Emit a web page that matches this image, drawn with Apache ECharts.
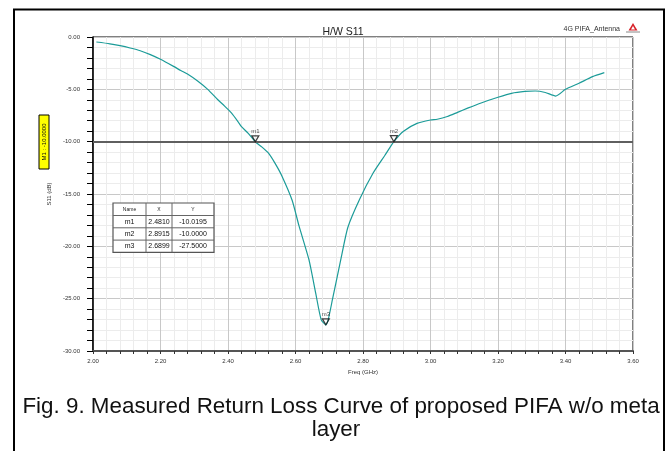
<!DOCTYPE html>
<html>
<head>
<meta charset="utf-8">
<script src="https://cdn.jsdelivr.net/npm/echarts@6/dist/echarts.min.js"></script>
<style>
  html, body { margin: 0; padding: 0; background: #fff; }
  #chart { width: 667px; height: 451px; }
</style>
</head>
<body>
<div id="chart"></div>
<script>
// Measured S11 of the PIFA (frequency in GHz, magnitude in dB)
const freq = [2.01, 2.05, 2.08, 2.11, 2.14, 2.17, 2.20, 2.24, 2.26, 2.28, 2.31, 2.34, 2.37, 2.39, 2.41, 2.43,
  2.44, 2.46, 2.481, 2.50, 2.52, 2.54, 2.56, 2.59, 2.61, 2.64, 2.66, 2.676, 2.6899, 2.697, 2.71, 2.734, 2.755,
  2.79, 2.83, 2.865, 2.8915, 2.92, 2.96, 3.00, 3.02, 3.05, 3.08, 3.11, 3.15, 3.20, 3.24, 3.28, 3.31,
  3.34, 3.371, 3.40, 3.44, 3.48, 3.515];
const s11 = [-0.48, -0.65, -0.83, -1.05, -1.31, -1.68, -2.13, -2.83, -3.2, -3.53, -4.2, -5.0, -6.0, -6.6, -7.25, -8.1,
  -8.57, -9.2, -10.0195, -10.5, -11.1, -12.1, -13.3, -15.6, -18.0, -21.3, -24.5, -27.0, -27.5, -27.0, -25.0, -21.3, -18.2,
  -15.5, -13.0, -11.3, -10.0, -9.0, -8.25, -7.93, -7.86, -7.6, -7.2, -6.8, -6.3, -5.76, -5.38, -5.2, -5.16,
  -5.3, -5.64, -5.0, -4.42, -3.79, -3.41];

// Marker readout
const markerNames = ['m1', 'm2', 'm3'];
const markerX = [2.4810, 2.8915, 2.6899];
const markerY = [-10.0195, -10.0000, -27.5000];

// Reference level line
const refLevel = -10;

// Axis ticks
const xTicks = ['2.00', '2.20', '2.40', '2.60', '2.80', '3.00', '3.20', '3.40', '3.60'];
const yTicks = ['-30.00', '-25.00', '-20.00', '-15.00', '-10.00', '-5.00', '0.00'];

const chart = echarts.init(document.getElementById('chart'), null, { renderer: 'canvas' });

const gridL = 93, gridT = 37, gridW = 540, gridH = 314;
const lineData = freq.map((f, i) => [f, s11[i]]);
const markerData = markerNames.map((n, i) => ({ name: n, value: [markerX[i], markerY[i]] }));
const FONT = 'Arial, "Liberation Sans", sans-serif';

// Marker table drawn as graphic rectangles and texts
const tbl = { x: 113, y: 203, colW: [33, 26, 42], headH: 12.5, rowH: 12.3 };
const tableEls = [];
const totalW = tbl.colW.reduce((a, b) => a + b, 0);
const totalH = tbl.headH + tbl.rowH * markerNames.length;
tableEls.push({ type: 'rect', z: 100, shape: { x: tbl.x, y: tbl.y, width: totalW, height: totalH },
  style: { fill: '#fff', stroke: '#555', lineWidth: 1.2 } });
let cx = tbl.x;
for (let c = 0; c < tbl.colW.length - 1; c++) {
  cx += tbl.colW[c];
  tableEls.push({ type: 'line', z: 101, shape: { x1: cx, y1: tbl.y, x2: cx, y2: tbl.y + totalH }, style: { stroke: '#666', lineWidth: 1 } });
}
for (let r = 0; r < markerNames.length; r++) {
  const yy = tbl.y + tbl.headH + r * tbl.rowH;
  tableEls.push({ type: 'line', z: 101, shape: { x1: tbl.x, y1: yy, x2: tbl.x + totalW, y2: yy }, style: { stroke: '#666', lineWidth: 1 } });
}
const headers = ['Name', 'X', 'Y'];
let colStart = tbl.x;
const colCenters = tbl.colW.map(w => { const c = colStart + w / 2; colStart += w; return c; });
headers.forEach((h, c) => tableEls.push({ type: 'text', z: 102, x: colCenters[c], y: tbl.y + tbl.headH / 2,
  style: { text: h, fill: '#222', font: '5px ' + FONT, align: 'center', verticalAlign: 'middle' } }));
markerNames.forEach((n, r) => {
  const yy = tbl.y + tbl.headH + r * tbl.rowH + tbl.rowH / 2;
  const cells = [n, markerX[r].toFixed(4), markerY[r].toFixed(4)];
  cells.forEach((t, c) => tableEls.push({ type: 'text', z: 102, x: colCenters[c], y: yy,
    style: { text: t, fill: '#111', font: '7px ' + FONT, align: 'center', verticalAlign: 'middle' } }));
});

const option = {
  backgroundColor: '#fff',
  animation: false,
  grid: { left: gridL, top: gridT, width: gridW, height: gridH, show: true, borderColor: '#000', borderWidth: 1, backgroundColor: 'transparent' },
  title: {
    text: 'H/W S11', left: 338, top: 22, textAlign: 'center',
    textStyle: { fontFamily: FONT, fontSize: 10.5, fontWeight: 'normal', color: '#222' }
  },
  xAxis: {
    type: 'value', min: 2.0, max: 3.6, interval: 0.2,
    name: 'Freq (GHz)', nameLocation: 'middle', nameGap: 17,
    nameTextStyle: { fontFamily: FONT, fontSize: 6, color: '#333' },
    axisLine: { show: true, onZero: false, lineStyle: { color: '#555', width: 2 } },
    axisTick: { show: true, length: 3, lineStyle: { color: '#333', width: 1 } },
    minorTick: { show: true, splitNumber: 5, length: 3, lineStyle: { color: '#333', width: 1 } },
    axisLabel: { margin: 7, fontSize: 6, color: '#333', fontFamily: FONT,
      formatter: v => xTicks[Math.round((v - 2.0) / 0.2)] },
    splitLine: { show: true, lineStyle: { color: '#c8c8c8', width: 1 } },
    minorSplitLine: { show: true, lineStyle: { color: '#ececec', width: 1 } }
  },
  yAxis: {
    type: 'value', min: -30, max: 0, interval: 5,
    name: 'S11 (dB)', nameLocation: 'middle', nameGap: 34, nameRotate: 90,
    nameTextStyle: { fontFamily: FONT, fontSize: 6, color: '#333' },
    axisLine: { show: true, onZero: false, lineStyle: { color: '#000', width: 1.5 } },
    axisTick: { show: true, length: 6, lineStyle: { color: '#000', width: 1 } },
    minorTick: { show: true, splitNumber: 5, length: 6, lineStyle: { color: '#000', width: 1 } },
    axisLabel: { margin: 13, fontSize: 6, color: '#333', fontFamily: FONT,
      formatter: v => yTicks[Math.round((v + 30) / 5)] },
    splitLine: { show: true, lineStyle: { color: '#c8c8c8', width: 1 } },
    minorSplitLine: { show: true, lineStyle: { color: '#ececec', width: 1 } }
  },
  series: [
    {
      type: 'line', data: lineData, showSymbol: false, smooth: 0.2,
      lineStyle: { color: '#1b9b98', width: 1.2 },
      markLine: {
        silent: true, symbol: 'none', label: { show: false },
        lineStyle: { color: '#5f5f5f', width: 2, type: 'solid' },
        data: [{ yAxis: refLevel }]
      },
      z: 3
    },
    {
      type: 'scatter', data: markerData,
      symbol: 'triangle', symbolRotate: 180, symbolSize: [7, 6], symbolOffset: [0, -3],
      itemStyle: { color: 'rgba(255,255,255,0)', borderColor: '#111', borderWidth: 1.2 },
      label: { show: true, position: 'top', distance: 1, formatter: p => p.name, fontSize: 6, color: '#222', fontFamily: FONT },
      z: 5
    }
  ],
  graphic: [
    // outer figure frame
    { type: 'rect', z: 100, shape: { x: 14, y: 9.5, width: 650, height: 460 }, style: { fill: 'none', stroke: '#000', lineWidth: 2 } },
    // project name and logo
    { type: 'text', z: 100, x: 620, y: 29, style: { text: '4G PIFA_Antenna', font: '7px ' + FONT, fill: '#333', align: 'right', verticalAlign: 'middle' } },
    { type: 'polygon', z: 100, shape: { points: [[633, 23], [628.5, 30.5], [637.5, 30.5]] }, style: { fill: '#d8232a' } },
    { type: 'polygon', z: 101, shape: { points: [[633, 26], [631, 29.5], [635, 29.5]] }, style: { fill: '#fff' } },
    { type: 'line', z: 100, shape: { x1: 626, y1: 32, x2: 640, y2: 32 }, style: { stroke: '#888', lineWidth: 1 } },
    // reference level tag
    { type: 'rect', z: 100, shape: { x: 39, y: 115, width: 10, height: 54 }, style: { fill: '#ffff00', stroke: '#000', lineWidth: 1 } },
    { type: 'text', z: 101, x: 44, y: 142, rotation: Math.PI / 2,
      style: { text: 'M1 : -10.0000', font: '6px ' + FONT, fill: '#111', align: 'center', verticalAlign: 'middle' } },
    // marker table
    { type: 'group', z: 100, children: tableEls },
    // caption
    { type: 'text', z: 100, x: 341, y: 407, style: { text: 'Fig. 9. Measured Return Loss Curve of proposed PIFA w/o meta',
      font: '22.4px ' + FONT, fill: '#111', align: 'center', verticalAlign: 'middle' } },
    { type: 'text', z: 100, x: 336, y: 430, style: { text: 'layer',
      font: '22.4px ' + FONT, fill: '#111', align: 'center', verticalAlign: 'middle' } }
  ]
};
chart.setOption(option);
</script>
</body>
</html>
